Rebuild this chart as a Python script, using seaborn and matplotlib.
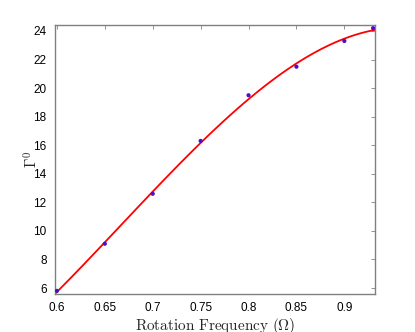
import numpy as np
import pandas as pd
import seaborn as sns
import matplotlib.pyplot as plt

# Data
freq = [0.60, 0.65, 0.70, 0.75, 0.80, 0.85, 0.90, 0.93]
gamma0 = [5.8, 9.1, 12.6, 16.3, 19.5, 21.5, 23.3, 24.2]
xticks = [0.6, 0.65, 0.7, 0.75, 0.8, 0.85, 0.9]
yticks = [6, 8, 10, 12, 14, 16, 18, 20, 22, 24]

df = pd.DataFrame({"freq": freq, "gamma0": gamma0})

sns.set_theme(style="white")
plt.rcParams['font.family'] = ['Liberation Sans', 'DejaVu Sans']
plt.rcParams['mathtext.fontset'] = 'cm'

fig = plt.figure(figsize=(4.15, 3.32), dpi=100)
ax = fig.add_axes([55 / 415, 1 - 294 / 332, 320 / 415, 269 / 332])
ax.set_xlim(0.598, 0.932)
ax.set_ylim(5.58, 24.42)

# fitted curve (cubic) across the full axis range
sns.regplot(data=df, x="freq", y="gamma0", order=3, ci=None, truncate=False,
            scatter=False, line_kws={"color": "red", "lw": 1.3}, ax=ax)
sns.scatterplot(data=df, x="freq", y="gamma0", color="#4a10c8", s=9,
                edgecolor="none", zorder=3, ax=ax)

ax.set_xticks(xticks)
ax.set_xticklabels([f"{v:g}" for v in xticks])
ax.set_yticks(yticks)
ax.tick_params(direction="in", length=3, width=0.6, color="#808080",
               labelsize=8.5, top=True, right=True, pad=6, labelcolor="black")
for s in ax.spines.values():
    s.set_color("#808080")
    s.set_linewidth(1.0)

ax.set_xlabel(r"$\mathrm{Rotation\ Frequency\ (\Omega)}$", fontsize=11, labelpad=1)
ax.set_ylabel(r"$\Gamma^0$", fontsize=11, labelpad=-5)

fig.savefig("out.png", dpi=100)
